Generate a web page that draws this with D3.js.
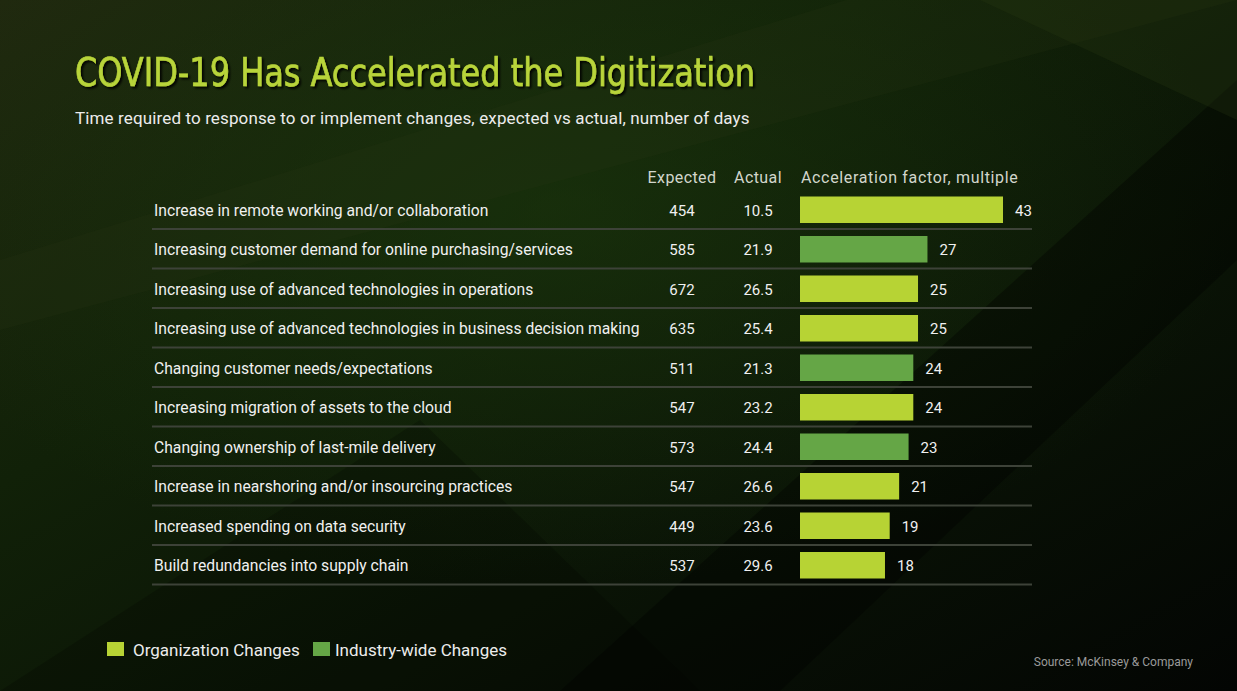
<!DOCTYPE html>
<html>
<head>
<meta charset="utf-8">
<script src="https://cdn.jsdelivr.net/npm/d3@7"></script>
<style>
  html, body { margin: 0; padding: 0; background: #050805; overflow: hidden; }
  svg { display: block; }
</style>
</head>
<body>
<div id="chart"></div>
<script>
// chart values
const categories = [
  'Increase in remote working and/or collaboration',
  'Increasing customer demand for online purchasing/services',
  'Increasing use of advanced technologies in operations',
  'Increasing use of advanced technologies in business decision making',
  'Changing customer needs/expectations',
  'Increasing migration of assets to the cloud',
  'Changing ownership of last-mile delivery',
  'Increase in nearshoring and/or insourcing practices',
  'Increased spending on data security',
  'Build redundancies into supply chain'
]
const expectedDays = [454, 585, 672, 635, 511, 547, 573, 547, 449, 537]
const actualDays = [10.5, 21.9, 26.5, 25.4, 21.3, 23.2, 24.4, 26.6, 23.6, 29.6]
const accelFactor = [43, 27, 25, 25, 24, 24, 23, 21, 19, 18]
const changeType = ['Organization Changes', 'Industry-wide Changes', 'Organization Changes', 'Organization Changes',
  'Industry-wide Changes', 'Organization Changes', 'Industry-wide Changes', 'Organization Changes',
  'Organization Changes', 'Organization Changes']
const legendKeys = ['Organization Changes', 'Industry-wide Changes']
const columnHeaders = ['Expected', 'Actual', 'Acceleration factor, multiple']

const width = 1237
const height = 691
const bodyFont = 'Roboto, "Noto Sans", sans-serif'
const titleFont = '"Liberation Sans Narrow", "DejaVu Sans Condensed", Roboto, sans-serif'

const rows = categories.map((c, i) => ({
  label: c,
  expected: expectedDays[i],
  actual: actualDays[i],
  factor: accelFactor[i],
  type: changeType[i]
}))

const svg = d3.select('#chart')
  .append('svg')
  .attr('width', width)
  .attr('height', height)

// background
const defs = svg.append('defs')
const bg = defs.append('linearGradient')
  .attr('id', 'bg-grad')
  .attr('x1', 0).attr('y1', 0).attr('x2', 1).attr('y2', 1)
bg.append('stop').attr('offset', '0%').attr('stop-color', '#20290f')
bg.append('stop').attr('offset', '35%').attr('stop-color', '#112108')
bg.append('stop').attr('offset', '65%').attr('stop-color', '#0a1406')
bg.append('stop').attr('offset', '100%').attr('stop-color', '#030503')

const glow = defs.append('radialGradient')
  .attr('id', 'glow')
  .attr('cx', 0.45).attr('cy', 0.3).attr('r', 0.55)
glow.append('stop').attr('offset', '0%').attr('stop-color', '#1d3a0e').attr('stop-opacity', 0.55)
glow.append('stop').attr('offset', '100%').attr('stop-color', '#1d3a0e').attr('stop-opacity', 0)

const shadow = defs.append('filter')
  .attr('id', 'title-shadow')
  .attr('x', '-5%').attr('y', '-20%').attr('width', '110%').attr('height', '150%')
shadow.append('feDropShadow')
  .attr('dx', 2).attr('dy', 2).attr('stdDeviation', 1)
  .attr('flood-color', '#000').attr('flood-opacity', 0.9)

svg.append('rect').attr('width', width).attr('height', height).attr('fill', 'url(#bg-grad)')
svg.append('rect').attr('width', width).attr('height', height).attr('fill', 'url(#glow)')

// soft diagonal streaks
const streaks = [
  { pts: [[0, 260], [1237, -120], [1237, 0], [0, 330]], c: '#2a3a14', o: 0.18 },
  { pts: [[560, 691], [1237, 80], [1237, 260], [780, 691]], c: '#000000', o: 0.35 },
  { pts: [[0, 691], [420, 420], [700, 691]], c: '#000000', o: 0.2 },
  { pts: [[820, 0], [1237, 0], [1237, 120], [980, 0]], c: '#2c3d14', o: 0.25 }
]
svg.append('g')
  .selectAll('polygon')
  .data(streaks)
  .join('polygon')
  .attr('points', d => d.pts.map(p => p.join(',')).join(' '))
  .attr('fill', d => d.c)
  .attr('opacity', d => d.o)

// title
svg.append('text')
  .attr('x', 75)
  .attr('y', 86)
  .attr('font-family', titleFont)
  .attr('font-size', 39)
  .attr('textLength', 680)
  .attr('lengthAdjust', 'spacingAndGlyphs')
  .attr('fill', '#b8d43a')
  .attr('stroke', '#b8d43a')
  .attr('stroke-width', 0.6)
  .attr('filter', 'url(#title-shadow)')
  .text('COVID-19 Has Accelerated the Digitization')

svg.append('text')
  .attr('x', 75)
  .attr('y', 124)
  .attr('font-family', bodyFont)
  .attr('font-size', 17)
  .attr('letter-spacing', 0.13)
  .attr('fill', '#ececec')
  .text('Time required to response to or implement changes, expected vs actual, number of days')

// scales
const y = d3.scaleBand()
  .domain(categories)
  .range([190.5, 585.5])
  .paddingInner(0)

const x = d3.scaleLinear()
  .domain([0, 43])
  .range([800, 1003])

const color = d3.scaleOrdinal()
  .domain(legendKeys)
  .range(['#b7d334', '#65a646'])

const colExpected = 682
const colActual = 758

// column headers
svg.append('g')
  .attr('font-family', bodyFont)
  .attr('font-size', 16)
  .attr('fill', '#d2d6cc')
  .selectAll('text')
  .data(columnHeaders)
  .join('text')
  .attr('x', (d, i) => [colExpected, colActual, x(0) + 1][i])
  .attr('y', 183)
  .attr('letter-spacing', (d, i) => i < 2 ? 0.4 : 0.65)
  .attr('text-anchor', (d, i) => i < 2 ? 'middle' : 'start')
  .text(d => d)

const rowG = svg.append('g')
  .selectAll('g')
  .data(rows)
  .join('g')
  .attr('transform', d => `translate(0,${y(d.label)})`)

// separators
rowG.append('line')
  .attr('x1', 152)
  .attr('x2', 1032)
  .attr('y1', y.step() - 1)
  .attr('y2', y.step() - 1)
  .attr('stroke', '#3d4238')
  .attr('stroke-width', 2)

rowG.append('text')
  .attr('x', 154)
  .attr('y', 20)
  .attr('dy', '0.35em')
  .attr('font-family', bodyFont)
  .attr('font-size', 15.7)
  .attr('fill', '#f0f0f0')
  .text(d => d.label)

rowG.append('text')
  .attr('x', colExpected)
  .attr('y', 20)
  .attr('dy', '0.35em')
  .attr('text-anchor', 'middle')
  .attr('font-family', bodyFont)
  .attr('font-size', 15)
  .attr('fill', '#f0f0f0')
  .text(d => d.expected)

rowG.append('text')
  .attr('x', colActual)
  .attr('y', 20)
  .attr('dy', '0.35em')
  .attr('text-anchor', 'middle')
  .attr('font-family', bodyFont)
  .attr('font-size', 15)
  .attr('fill', '#f0f0f0')
  .text(d => d3.format('.1f')(d.actual))

rowG.append('rect')
  .attr('x', x(0))
  .attr('y', 6)
  .attr('width', d => x(d.factor) - x(0))
  .attr('height', 26.5)
  .attr('fill', d => color(d.type))

rowG.append('text')
  .attr('x', d => x(d.factor) + 12)
  .attr('y', 20)
  .attr('dy', '0.35em')
  .attr('font-family', bodyFont)
  .attr('font-size', 15)
  .attr('fill', '#f0f0f0')
  .text(d => d.factor)

// legend
const legend = svg.append('g')
  .selectAll('g')
  .data(legendKeys)
  .join('g')
  .attr('transform', (d, i) => `translate(${[107, 313][i]},642)`)

legend.append('rect')
  .attr('width', 17)
  .attr('height', 14)
  .attr('fill', d => color(d))

legend.append('text')
  .attr('x', (d, i) => [26, 22][i])
  .attr('y', 8)
  .attr('dy', '0.35em')
  .attr('font-family', bodyFont)
  .attr('font-size', 17)
  .attr('fill', '#ececec')
  .text(d => d)

svg.append('text')
  .attr('x', 1193)
  .attr('y', 666)
  .attr('text-anchor', 'end')
  .attr('font-family', bodyFont)
  .attr('font-size', 12)
  .attr('fill', '#9a9a9a')
  .text('Source: McKinsey & Company')
</script>
</body>
</html>
